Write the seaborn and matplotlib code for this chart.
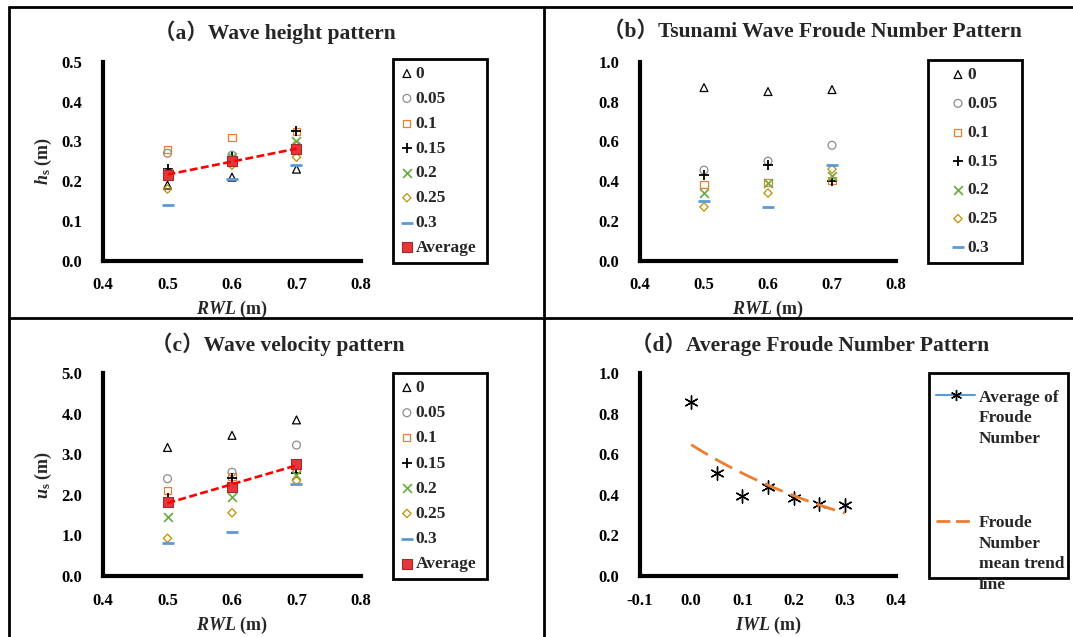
import numpy as np
import matplotlib.pyplot as plt
from matplotlib.lines import Line2D
from matplotlib.patches import Rectangle
import seaborn as sns

# RWL positions (m) and IWL series
rwl = [0.5, 0.6, 0.7]
iwl = [0.0, 0.05, 0.1, 0.15, 0.2, 0.25, 0.3]
iwl_labels = ["0", "0.05", "0.1", "0.15", "0.2", "0.25", "0.3"]

# (a) wave height hs (m): one row per IWL, columns are RWL 0.5 / 0.6 / 0.7
height_hs = [
    [0.19, 0.21, 0.23],
    [0.27, 0.265, 0.29],
    [0.28, 0.31, 0.325],
    [0.23, 0.26, 0.325],
    [0.22, 0.26, 0.30],
    [0.18, 0.24, 0.26],
    [0.14, 0.205, 0.24],
]
height_avg = [0.216, 0.25, 0.281]

# (b) tsunami wave Froude number
froude_b = [
    [0.87, 0.85, 0.86],
    [0.455, 0.50, 0.58],
    [0.385, 0.395, 0.405],
    [0.43, 0.48, 0.40],
    [0.34, 0.39, 0.425],
    [0.27, 0.34, 0.46],
    [0.30, 0.27, 0.48],
]

# (c) wave velocity us (m)
velocity_us = [
    [3.17, 3.47, 3.85],
    [2.40, 2.56, 3.23],
    [2.12, 2.45, 2.62],
    [1.92, 2.41, 2.55],
    [1.46, 1.95, 2.49],
    [0.93, 1.56, 2.35],
    [0.81, 1.08, 2.27],
]
velocity_avg = [1.83, 2.20, 2.76]

# (d) average Froude number per IWL
froude_avg = [0.86, 0.51, 0.395, 0.437, 0.385, 0.357, 0.35]

# marker, colour, open?, size, linewidth
styles = [
    ("^", "black", True, 32, 0.9),
    ("o", "#8c8c8c", True, 32, 0.9),
    ("s", "#ED7D31", True, 26, 0.9),
    ("+", "black", False, 60, 1.3),
    ("x", "#70AD47", False, 40, 1.3),
    ("D", "#BF9000", True, 18, 0.9),
    ("_", "#5B9BD5", False, 70, 2.0),
]

sns.set_style("white")
plt.rcParams["font.family"] = ["Liberation Serif", "Noto Sans CJK SC"]
plt.rcParams["font.weight"] = "bold"
plt.rcParams["mathtext.fontset"] = "custom"
plt.rcParams["mathtext.rm"] = "Liberation Serif:bold"
plt.rcParams["mathtext.it"] = "Liberation Serif:italic:bold"
plt.rcParams["mathtext.bf"] = "Liberation Serif:bold"

W, H = 1073, 637
LEG_FS = 12.5
fig = plt.figure(figsize=(W / 100, H / 100), dpi=100)


def px_axes(x0, y0, x1, y1):
    return fig.add_axes([x0 / W, 1 - y1 / H, (x1 - x0) / W, (y1 - y0) / H])


def scatter_series(ax, xs, rows):
    for lab, ys, (m, c, hollow, s, lw) in zip(iwl_labels, rows, styles):
        if hollow:
            sns.scatterplot(x=xs, y=ys, ax=ax, marker=m, s=s, facecolor="none",
                            edgecolor=c, linewidth=lw, label=lab, zorder=3)
        else:
            sns.scatterplot(x=xs, y=ys, ax=ax, marker=m, s=s, color=c,
                            linewidth=lw, label=lab, zorder=3)


def add_average(ax, avg):
    sns.scatterplot(x=rwl, y=avg, ax=ax, marker="s", s=60, color="#E5363B",
                    edgecolor="#A52A2A", linewidth=0.8, label="Average", zorder=4)
    sns.regplot(x=np.array(rwl), y=np.array(avg), ax=ax, scatter=False, ci=None,
                truncate=True,
                line_kws=dict(color="red", lw=1.9, dashes=(3, 1.3), zorder=5))


def style_axes(ax, xlim, xticks, ylim, yticks, xlabel, ylabel=None):
    ax.set_xlim(*xlim)
    ax.set_ylim(*ylim)
    ax.set_xticks(xticks)
    ax.set_yticks(yticks)
    ax.set_xticklabels([f"{t:.1f}" for t in xticks])
    ax.set_yticklabels([f"{t:.1f}" for t in yticks])
    for s in ["top", "right"]:
        ax.spines[s].set_visible(False)
    for s in ["left", "bottom"]:
        ax.spines[s].set_linewidth(3)
        ax.spines[s].set_color("black")
    ax.tick_params(direction="in", length=3, width=3, labelsize=12, colors="black")
    ax.tick_params(axis="x", pad=12)
    ax.tick_params(axis="y", pad=15)
    ax.set_xlabel(xlabel, fontsize=13, fontweight="bold")
    ax.xaxis.set_label_coords(0.5, -0.193)
    if ylabel:
        ax.set_ylabel(ylabel, fontsize=13, fontweight="bold")
        ax.yaxis.set_label_coords(-0.19, 0.5)
    else:
        ax.set_ylabel("")


def place_legend(ax, box, **kw):
    x0, y0, x1, y1 = box
    handles, labels = ax.get_legend_handles_labels()
    leg = ax.legend(handles, labels, loc="upper left",
                    bbox_to_anchor=(x0 / W, 1 - y1 / H, (x1 - x0) / W, (y1 - y0) / H),
                    bbox_transform=fig.transFigure, mode="expand", borderaxespad=0,
                    fancybox=False, framealpha=1, edgecolor="black",
                    prop=dict(size=LEG_FS, weight="bold"), **kw)
    leg.get_frame().set_linewidth(2)
    return leg


def fig_line(xs, ys, **kw):
    fig.add_artist(Line2D([x / W for x in xs], [1 - y / H for y in ys],
                          transform=fig.transFigure, **kw))


xt = [0.4, 0.5, 0.6, 0.7, 0.8]

# (a)
ax_a = px_axes(103, 61.7, 361, 260.7)
scatter_series(ax_a, rwl, height_hs)
add_average(ax_a, height_avg)
style_axes(ax_a, (0.4, 0.8), xt, (0, 0.5), [0, 0.1, 0.2, 0.3, 0.4, 0.5],
           r"$RWL$ (m)", r"$h_{\mathrm{s}}$ (m)")
place_legend(ax_a, (393, 59, 487, 263), borderpad=0.4, handlelength=0.8,
             handletextpad=0.1, labelspacing=0.5)

# (b)
ax_b = px_axes(640, 61.7, 896, 260.7)
scatter_series(ax_b, rwl, froude_b)
style_axes(ax_b, (0.4, 0.8), xt, (0, 1.0), [0, 0.2, 0.4, 0.6, 0.8, 1.0],
           r"$RWL$ (m)")
place_legend(ax_b, (928, 60, 1022, 263), borderpad=0.4, handlelength=2.65,
             handletextpad=-0.8, labelspacing=0.73)

# (c)
ax_c = px_axes(103, 373.3, 361, 576)
scatter_series(ax_c, rwl, velocity_us)
add_average(ax_c, velocity_avg)
style_axes(ax_c, (0.4, 0.8), xt, (0, 5.0), [0, 1, 2, 3, 4, 5],
           r"$RWL$ (m)", r"$u_{\mathrm{s}}$ (m)")
place_legend(ax_c, (393, 373, 487, 579), borderpad=0.4, handlelength=0.8,
             handletextpad=0.1, labelspacing=0.52)

# (d)
ax_d = px_axes(640, 373.3, 896, 576)
sns.scatterplot(x=iwl, y=froude_avg, ax=ax_d, marker=(6, 2, 0), s=90,
                color="black", linewidth=1.0, zorder=3)
slope, intercept = np.polyfit(iwl, np.log(froude_avg), 1)
xs = np.linspace(iwl[0], iwl[-1], 60)
sns.lineplot(x=xs, y=np.exp(intercept + slope * xs), ax=ax_d, color="#ED7D31",
             lw=2, linestyle=(0, (7, 3)), zorder=4)
style_axes(ax_d, (-0.1, 0.4), [-0.1, 0.0, 0.1, 0.2, 0.3, 0.4], (0, 1.0),
           [0, 0.2, 0.4, 0.6, 0.8, 1.0], r"$IWL$ (m)")

# (d) legend: handles sit beside the first line of each label
fig.add_artist(Rectangle((929 / W, 1 - 578 / H), (1068 - 929) / W, (578 - 373) / H,
                         transform=fig.transFigure, fill=False, lw=2,
                         edgecolor="black"))
fig_line((936, 975), (395, 395), color="#5B9BD5", lw=1.5)
fig_line((955.5,), (395,), color="black", marker=(6, 2, 0), markersize=8,
         markeredgewidth=1, linestyle="none")
fig_line((936, 975), (521, 521), color="#ED7D31", lw=2, linestyle=(0, (5, 2)))
leg_kw = dict(ha="left", va="top", fontsize=12.5, fontweight="bold", linespacing=1.38)
fig.text(979 / W, 1 - 389.5 / H, "Average of\nFroude\nNumber", **leg_kw)
fig.text(979 / W, 1 - 515 / H, "Froude\nNumber\nmean trend\nline", **leg_kw)

# titles
title_kw = dict(ha="center", va="center", fontsize=15.5, fontweight="bold")
fig.text(275 / W, 1 - 32 / H, "（a）Wave height pattern", **title_kw)
fig.text(812 / W, 1 - 32 / H, "（b）Tsunami Wave Froude Number Pattern", **title_kw)
fig.text(278 / W, 1 - 344 / H, "（c）Wave velocity pattern", **title_kw)
fig.text(810 / W, 1 - 344 / H, "（d）Average Froude Number Pattern", **title_kw)

# panel frame lines
fig_line((8.5, 8.5), (6.5, H), color="black", lw=2)
fig_line((8.5, W), (6.5, 6.5), color="black", lw=2)
fig_line((543.7, 543.7), (6.5, H), color="black", lw=2)
fig_line((8.5, W), (317.7, 317.7), color="black", lw=2)

fig.savefig("out.png", dpi=100)
